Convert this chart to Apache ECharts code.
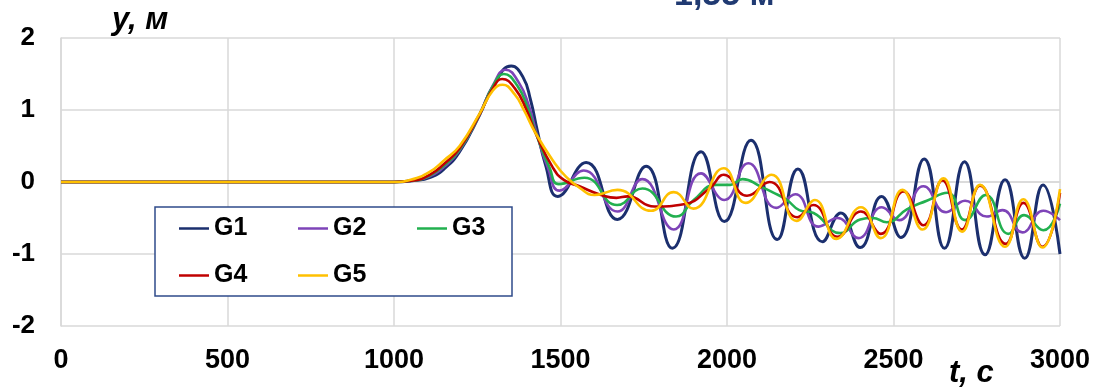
<!DOCTYPE html>
<html>
<head>
<meta charset="utf-8">
<script src="https://cdn.jsdelivr.net/npm/echarts@6/dist/echarts.min.js"></script>
<style>
  html, body { margin: 0; padding: 0; background: #fff; }
  #chart { width: 1096px; height: 387px; }
</style>
</head>
<body>
<div id="chart"></div>
<script>
// Wave level y (m) versus time t (s) at five gauges G1..G5
const seriesNames = ['G1', 'G2', 'G3', 'G4', 'G5'];
const xTicks = { min: 0, max: 3000, step: 500 };
const yTicks = { min: -2, max: 2, step: 1 };
const peakLabel = '1,55 м';

const g1 = [[0,0],[500,0],[1000,0],[1060,0.02],[1107,0.06],[1150,0.18],[1197,0.42],[1257,0.93],[1297,1.32],
  [1352,1.61],[1387,1.46],[1410,1.14],[1430,0.72],[1455,0.24],[1492,-0.2],[1577,0.27],[1671,-0.52],[1757,0.22],[1836,-0.92],
  [1922,0.42],[1992,-0.55],[2072,0.58],[2151,-0.8],[2213,0.18],[2287,-0.83],[2342,-0.43],[2400,-0.91],
  [2464,-0.2],[2522,-0.77],[2592,0.32],[2653,-0.92],[2713,0.28],[2775,-1.01],[2835,0.03],[2894,-1.06],
  [2949,-0.04],[3000,-1.0]];

const g2 = [[0,0],[500,0],[1000,0],[1060,0.02],[1107,0.08],[1150,0.21],[1197,0.44],[1257,0.94],[1297,1.34],
  [1335,1.56],[1375,1.38],[1405,1.06],[1428,0.68],[1462,0.2],[1497,-0.12],[1570,0.16],[1671,-0.41],[1746,0.04],[1840,-0.66],
  [1922,0.12],[1992,-0.25],[2064,0.26],[2148,-0.36],[2205,-0.17],[2275,-0.62],[2332,-0.5],[2395,-0.78],
  [2465,-0.35],[2517,-0.53],[2590,-0.06],[2658,-0.42],[2715,-0.26],[2780,-0.48],[2827,-0.39],[2887,-0.7],
  [2950,-0.4],[3000,-0.53]];

const g3 = [[0,0],[500,0],[1000,0],[1060,0.02],[1107,0.09],[1150,0.23],[1197,0.45],[1257,0.94],[1297,1.33],
  [1330,1.5],[1370,1.34],[1402,1.02],[1426,0.68],[1467,0.2],[1495,-0.03],[1572,0.06],[1670,-0.32],[1746,-0.09],[1847,-0.48],
  [1900,-0.25],[1967,-0.04],[2010,-0.04],[2047,0.04],[2100,-0.06],[2136,-0.14],[2180,-0.25],[2217,-0.39],
  [2260,-0.43],[2340,-0.71],[2400,-0.52],[2437,-0.5],[2480,-0.56],[2540,-0.38],[2600,-0.26],[2662,-0.15],
  [2715,-0.53],[2777,-0.18],[2845,-0.72],[2892,-0.46],[2950,-0.67],[3000,-0.3]];

const g4 = [[0,0],[500,0],[1000,0],[1060,0.02],[1107,0.1],[1150,0.25],[1197,0.47],[1257,0.94],[1297,1.3],
  [1325,1.43],[1363,1.3],[1398,1.0],[1425,0.68],[1477,0.2],[1510,0.03],[1557,-0.06],[1622,-0.18],[1668,-0.22],[1702,-0.2],
  [1782,-0.34],[1870,-0.31],[1950,-0.08],[1990,0.1],[2060,-0.19],[2128,0.0],[2211,-0.49],[2259,-0.32],
  [2332,-0.76],[2402,-0.41],[2462,-0.72],[2530,-0.13],[2590,-0.6],[2647,0.02],[2705,-0.66],[2760,-0.05],
  [2837,-0.86],[2890,-0.29],[2947,-0.9],[3000,-0.15]];

const g5 = [[0,0],[500,0],[1000,0],[1050,0.03],[1107,0.14],[1150,0.3],[1197,0.5],[1257,0.95],[1297,1.27],
  [1326,1.35],[1362,1.22],[1390,1.0],[1425,0.68],[1477,0.3],[1517,0.07],[1557,-0.08],[1602,-0.18],[1671,-0.11],
  [1772,-0.4],[1840,-0.14],[1899,-0.37],[1990,0.19],[2056,-0.29],[2134,0.1],[2209,-0.54],[2264,-0.25],
  [2329,-0.79],[2402,-0.35],[2462,-0.78],[2527,-0.11],[2587,-0.66],[2650,0.05],[2706,-0.69],[2760,-0.04],
  [2835,-0.9],[2890,-0.24],[2947,-0.91],[3000,-0.1]];

const seriesData = [g1, g2, g3, g4, g5];
const colors = ['#1b2f6e', '#7e44b8', '#22b04f', '#c00000', '#ffc000'];
const widths = [3, 2.6, 2.6, 2.6, 2.6];

const FONT = '"Liberation Sans", Arial, sans-serif';

const chart = echarts.init(document.getElementById('chart'), null, { renderer: 'canvas' });

chart.setOption({
  animation: false,
  backgroundColor: '#ffffff',
  grid: { left: 61, right: 36, top: 38, bottom: 61, containLabel: false },
  xAxis: {
    type: 'value',
    min: xTicks.min, max: xTicks.max, interval: xTicks.step,
    axisLine: { show: true, lineStyle: { color: '#d9d9d9', width: 1.5 } },
    axisTick: { show: false },
    splitLine: { show: true, lineStyle: { color: '#d9d9d9', width: 1.5 } },
    axisLabel: { color: '#000', fontSize: 27, fontWeight: 'bold', fontFamily: FONT, margin: 21,
      formatter: v => String(v) }
  },
  yAxis: {
    type: 'value',
    min: yTicks.min, max: yTicks.max, interval: yTicks.step,
    axisLine: { show: true, lineStyle: { color: '#d9d9d9', width: 1.5 } },
    axisTick: { show: false },
    splitLine: { show: true, lineStyle: { color: '#d9d9d9', width: 1.5 } },
    axisLabel: { color: '#000', fontSize: 26, fontWeight: 'bold', fontFamily: FONT, margin: 26,
      formatter: v => String(v) }
  },
  legend: {
    data: seriesNames,
    left: 179, top: 216, width: 340,
    orient: 'horizontal',
    itemGap: 22,
    itemWidth: 30, itemHeight: 2.5,
    icon: 'rect',
    padding: 0,
    z: 5,
    textStyle: { color: '#000', fontSize: 25, fontWeight: 'bold', fontFamily: FONT, width: 62, lineHeight: 24 }
  },
  graphic: [
    { type: 'rect', z: 4, shape: { x: 155, y: 207, width: 357, height: 89 },
      style: { fill: '#ffffff', stroke: '#2f4b8a', lineWidth: 1.5 } },
    { type: 'text', z: 6, style: { text: 'y, м', x: 112, y: 20, fill: '#000',
      font: 'italic bold 31px ' + FONT, textAlign: 'left', verticalAlign: 'middle' } },
    { type: 'text', z: 6, style: { text: 't, с', x: 949, y: 373, fill: '#000',
      font: 'italic bold 31px ' + FONT, textAlign: 'left', verticalAlign: 'middle' } },
    { type: 'text', z: 6, style: { text: peakLabel, x: 674, y: -4, fill: '#203a72',
      font: 'bold 34px ' + FONT, textAlign: 'left', verticalAlign: 'middle' } }
  ],
  series: seriesNames.map((name, i) => ({
    name: name,
    type: 'line',
    data: seriesData[i],
    color: colors[i],
    smooth: 0.5,
    showSymbol: false,
    symbol: 'none',
    lineStyle: { width: widths[i], color: colors[i] },
    z: 2 + i * 0.1
  }))
});
</script>
</body>
</html>
